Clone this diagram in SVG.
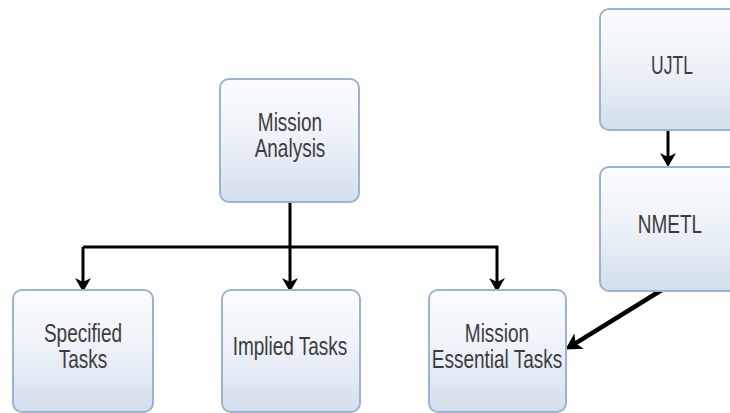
<svg xmlns="http://www.w3.org/2000/svg" width="730" height="413" viewBox="0 0 730 413">
  <style>
    .box { stroke: #9cb2cd; stroke-width: 2; fill: url(#boxFill); }
    .lbl { font-family: "Liberation Sans", Arial, sans-serif; font-size: 25px; fill: #3c3c3c; text-anchor: middle; }
    .wire { fill: none; stroke: #000; stroke-width: 3; }
    .wire-heavy { fill: none; stroke: #000; stroke-width: 4.5; }
  </style>
  <defs>
    <linearGradient id="boxFill" x1="0" y1="0" x2="0" y2="1">
      <stop offset="0" stop-color="#fbfcfe"/>
      <stop offset="0.45" stop-color="#eef3f9"/>
      <stop offset="1" stop-color="#d3dfee"/>
    </linearGradient>
    <marker id="arr" viewBox="0 0 14 16" refX="9" refY="8" markerWidth="14" markerHeight="16" markerUnits="userSpaceOnUse" orient="auto">
      <path d="M0,0 L14,8 L0,16 L4,8 Z" fill="#000"/>
    </marker>
    <marker id="arrBig" viewBox="0 0 16 18" refX="10" refY="9" markerWidth="16" markerHeight="18" markerUnits="userSpaceOnUse" orient="auto">
      <path d="M0,0 L16,9 L0,18 L4,9 Z" fill="#000"/>
    </marker>
  </defs>

  <rect width="730" height="413" fill="#ffffff"/>

  <!-- connectors -->
  <g id="connectors">
    <path class="wire" d="M290,202 V247"/>
    <path class="wire" d="M83,247 H497 V287" marker-end="url(#arr)"/>
    <path class="wire" d="M83,247 V287" marker-end="url(#arr)"/>
    <path class="wire" d="M290,247 V287" marker-end="url(#arr)"/>
    <path class="wire" d="M668,130 V162" marker-end="url(#arr)"/>
    <path class="wire-heavy" d="M665,288 L570.5,346.3" marker-end="url(#arrBig)"/>
  </g>

  <!-- nodes -->
  <g id="mission-analysis">
    <rect class="box" x="220" y="79" width="139" height="123" rx="9"/>
    <text class="lbl" transform="translate(290,131) scale(0.76,1)">Mission</text>
    <text class="lbl" transform="translate(290,157) scale(0.76,1)">Analysis</text>
  </g>

  <g id="ujtl">
    <rect class="box" x="600" y="9" width="142" height="121" rx="9"/>
    <text class="lbl" transform="translate(672,74) scale(0.7,1)">UJTL</text>
  </g>

  <g id="nmetl">
    <rect class="box" x="600" y="167" width="142" height="124" rx="9"/>
    <text class="lbl" transform="translate(670,233) scale(0.76,1)">NMETL</text>
  </g>

  <g id="specified-tasks">
    <rect class="box" x="13" y="290" width="140" height="122" rx="9"/>
    <text class="lbl" transform="translate(83,342) scale(0.76,1)">Specified</text>
    <text class="lbl" transform="translate(83,368) scale(0.76,1)">Tasks</text>
  </g>

  <g id="implied-tasks">
    <rect class="box" x="222" y="290" width="138" height="122" rx="9"/>
    <text class="lbl" transform="translate(290,355) scale(0.76,1)">Implied Tasks</text>
  </g>

  <g id="mission-essential-tasks">
    <rect class="box" x="429" y="290" width="137" height="122" rx="9"/>
    <text class="lbl" transform="translate(497,342) scale(0.76,1)">Mission</text>
    <text class="lbl" transform="translate(497,368) scale(0.76,1)">Essential Tasks</text>
  </g>
</svg>
